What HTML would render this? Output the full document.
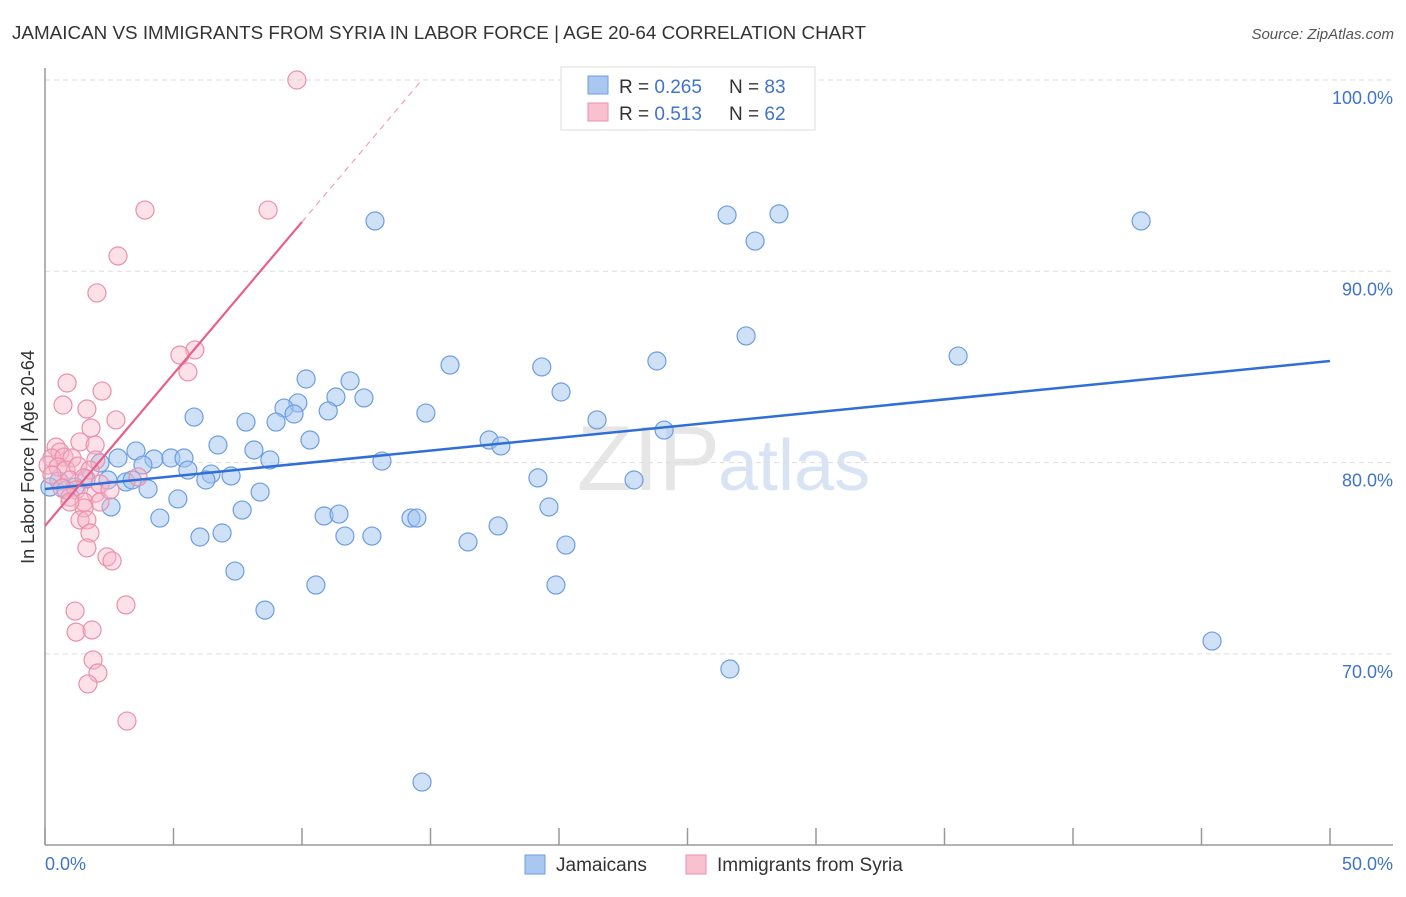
<!DOCTYPE html>
<html><head><meta charset="utf-8"><style>
body{margin:0;background:#fff;font-family:"Liberation Sans",sans-serif}
svg text{font-family:"Liberation Sans",sans-serif}
</style></head><body>
<svg width="1406" height="892" xmlns="http://www.w3.org/2000/svg">
<text x="12" y="39" font-size="18" fill="#333" textLength="854" lengthAdjust="spacingAndGlyphs">JAMAICAN VS IMMIGRANTS FROM SYRIA IN LABOR FORCE | AGE 20-64 CORRELATION CHART</text>
<text x="1394" y="39" font-size="15" fill="#555" font-style="italic" text-anchor="end">Source: ZipAtlas.com</text>
<text x="720" y="490" font-size="92" fill="#e6e6e6" font-family="Liberation Serif" text-anchor="end">ZIP</text>
<text x="718" y="490" font-size="72" fill="#d8e4f4">atlas</text>
<g id="grid"></g>
<g id="axes"></g>
<g id="pts"></g>
<g id="lines"></g>
<text transform="translate(34,457) rotate(-90)" font-size="18" fill="#333" text-anchor="middle">In Labor Force | Age 20-64</text>
<text x="45" y="870" font-size="18" fill="#3f74c9">0.0%</text>
<text x="1393" y="870" font-size="18" fill="#3f74c9" text-anchor="end">50.0%</text>
<g>
<rect x="561" y="67" width="254" height="63" fill="#fff" stroke="#ddd"/>
<rect x="588" y="76" width="20" height="18" fill="#a9c7f0" stroke="#6d9de0"/>
<rect x="588" y="103" width="20" height="18" fill="#f8c0d0" stroke="#eb8fab"/>
<text x="619" y="93" font-size="19" fill="#333">R = <tspan fill="#3f74c9">0.265</tspan></text>
<text x="729" y="93" font-size="19" fill="#333">N = <tspan fill="#3f74c9">83</tspan></text>
<text x="619" y="120" font-size="19" fill="#333">R = <tspan fill="#3f74c9"> 0.513</tspan></text>
<text x="729" y="120" font-size="19" fill="#333">N = <tspan fill="#3f74c9">62</tspan></text>
</g>
<g>
<rect x="525" y="855" width="20" height="19" fill="#a9c7f0" stroke="#6d9de0"/>
<text x="556" y="871" font-size="19" fill="#333">Jamaicans</text>
<rect x="686" y="855" width="20" height="19" fill="#f8c0d0" stroke="#eb8fab"/>
<text x="717" y="871" font-size="19" fill="#333">Immigrants from Syria</text>
</g>
</svg>
<script>
const yTicks=[70,80,90,100];
const yTickLabels=["70.0%","80.0%","90.0%","100.0%"];
const xTicks=[0,5,10,15,20,25,30,35,40,45,50];
const blueX=[12.84,26.54,28.56,27.63,42.65,27.28,35.53,23.81,15.76,19.33,10.16,11.87,20.08,11.32,12.41,9.84,9.30,11.02,9.69,14.82,5.80,7.82,8.99,21.48,24.09,10.31,17.28,17.74,6.73,3.54,8.13,2.84,4.24,4.90,5.41,2.14,3.81,8.75,13.11,5.56,6.46,6.26,7.24,1.60,2.45,3.15,3.39,0.54,0.19,0.82,1.17,19.18,22.92,4.01,8.37,5.17,2.57,7.67,19.61,4.47,10.86,11.44,14.24,14.47,17.63,6.89,6.03,11.67,12.72,16.46,20.27,7.39,10.54,19.88,8.56,45.41,26.65,14.67];
const blueY=[92.63,92.94,93.0,91.58,92.63,86.62,85.57,85.31,85.10,85.0,84.37,84.27,83.69,83.43,83.38,83.12,82.85,82.70,82.54,82.59,82.38,82.12,82.12,82.23,81.70,81.18,81.18,80.87,80.92,80.61,80.66,80.24,80.19,80.24,80.24,79.98,79.87,80.14,80.08,79.61,79.40,79.09,79.30,79.14,79.09,78.99,79.09,79.04,78.72,78.57,78.72,79.20,79.09,78.62,78.46,78.10,77.68,77.52,77.68,77.10,77.21,77.31,77.10,77.10,76.69,76.32,76.11,76.16,76.16,75.85,75.69,74.33,73.60,73.60,72.29,70.67,69.21,63.30];
const pinkX=[9.80,3.89,8.68,2.84,2.02,5.83,5.25,5.56,0.86,2.22,0.70,1.63,2.76,1.79,1.36,1.95,0.43,0.58,0.27,0.74,1.05,1.98,0.12,0.51,0.82,1.28,1.75,0.27,0.97,1.52,3.62,0.66,1.21,1.98,0.97,1.52,2.14,1.52,0.97,1.36,1.63,1.75,1.63,2.41,2.61,3.15,1.17,1.21,1.83,1.87,2.06,1.67,3.19,2.14,2.53];
const pinkY=[100,93.2,93.2,90.80,88.87,85.89,85.62,84.74,84.16,83.74,83.01,82.80,82.23,81.81,81.08,80.92,80.81,80.55,80.24,80.29,80.24,80.14,79.87,79.77,79.61,79.82,79.61,79.35,79.09,79.20,79.25,78.67,78.57,78.41,78.20,77.94,77.94,77.63,77.94,77.00,77.00,76.32,75.54,75.07,74.86,72.56,72.24,71.14,71.25,69.68,69.00,68.43,66.49,78.88,78.57];
const blueTrend=[78.62,85.31];
const pinkTrend=[76.69,92.58,99.9];
const pinkTrendX=[0,10,14.6];
const NS="http://www.w3.org/2000/svg";
const sx=v=>45+v*1285/50;
const sy=v=>80+(100-v)*19.13;
function mk(tag,attrs,parent){const e=document.createElementNS(NS,tag);for(const k in attrs)e.setAttribute(k,attrs[k]);document.getElementById(parent).appendChild(e);return e;}
yTicks.forEach((t,i)=>{
 const l=mk('line',{x1:45,x2:1393,y1:sy(t),y2:sy(t),stroke:'#ddd','stroke-dasharray':'5,4'},'grid');
 
 
 const tx=mk('text',{x:1393,y:sy(t)+24,'font-size':18,fill:'#3f74c9','text-anchor':'end'},'grid');
 tx.textContent=yTickLabels[i];
 
 
});
const ya=mk('line',{x1:45,x2:45,y1:68,y2:845,stroke:'#999','stroke-width':1.5},'axes');


const xa=mk('line',{x1:45,x2:1393,y1:845,y2:845,stroke:'#999','stroke-width':1.5},'axes');


xTicks.forEach(t=>{
 const l=mk('line',{x1:sx(t),x2:sx(t),y1:828,y2:845,stroke:'#999','stroke-width':1.5},'axes');
 
 
});
blueX.forEach((x,i)=>{
 const c=mk('circle',{cx:sx(x),cy:sy(blueY[i]),r:9,fill:'rgba(160,195,240,0.5)',stroke:'#6d9de0','stroke-width':1.2},'pts');
 
 
});
pinkX.forEach((x,i)=>{
 const c=mk('circle',{cx:sx(x),cy:sy(pinkY[i]),r:9,fill:'rgba(248,180,200,0.4)',stroke:'#eb8fab','stroke-width':1.2},'pts');
 
 
});
const bl=mk('line',{x1:sx(0),y1:sy(blueTrend[0]),x2:sx(50),y2:sy(blueTrend[1]),stroke:'#2f6fd6','stroke-width':2.5},'lines');


const pl=mk('line',{x1:sx(pinkTrendX[0]),y1:sy(pinkTrend[0]),x2:sx(pinkTrendX[1]),y2:sy(pinkTrend[1]),stroke:'#e8608a','stroke-width':2.2},'lines');


const pd=mk('line',{x1:sx(pinkTrendX[1]),y1:sy(pinkTrend[1]),x2:sx(pinkTrendX[2]),y2:sy(pinkTrend[2]),stroke:'#f0a0b8','stroke-width':1.2,'stroke-dasharray':'6,5'},'lines');


</script>
</body></html>
